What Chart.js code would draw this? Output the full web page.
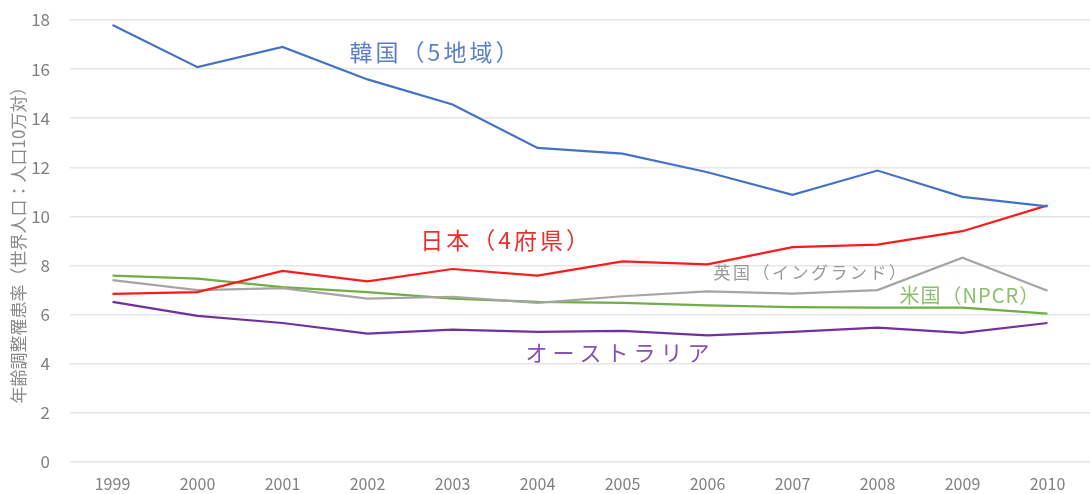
<!DOCTYPE html>
<html>
<head>
<meta charset="utf-8">
<script src="https://cdn.jsdelivr.net/npm/chart.js@4"></script>
<style>
  html, body { margin: 0; padding: 0; background: #fff; overflow: hidden; }
  canvas { display: block; }
</style>
</head>
<body>
<canvas id="chart" width="1090" height="494"></canvas>
<script>
// 年齢調整罹患率 1999-2010
const years = ['1999', '2000', '2001', '2002', '2003', '2004', '2005', '2006', '2007', '2008', '2009', '2010'];

const korea     = [17.8, 16.08, 16.9, 15.58, 14.56, 12.79, 12.56, 11.8, 10.88, 11.87, 10.8, 10.41];
const japan     = [6.85, 6.92, 7.78, 7.36, 7.86, 7.59, 8.17, 8.05, 8.75, 8.85, 9.4, 10.45];
const uk        = [7.41, 7.0, 7.08, 6.65, 6.73, 6.48, 6.75, 6.95, 6.86, 7.0, 8.32, 6.97];
const us        = [7.59, 7.47, 7.12, 6.92, 6.65, 6.52, 6.48, 6.38, 6.31, 6.29, 6.29, 6.04];
const australia = [6.52, 5.95, 5.66, 5.23, 5.39, 5.3, 5.34, 5.16, 5.3, 5.47, 5.26, 5.66];

const yTicks = [0, 2, 4, 6, 8, 10, 12, 14, 16, 18];

// 系列名ラベル（カテゴリ位置・値で配置）
const labelTexts = ['韓国（5地域）', '日本（4府県）', '英国（イングランド）', '米国（NPCR）', 'オーストラリア'];
const labelX     = [3.8, 4.63, 7.07, 9.26, 5.97];
const labelY     = [16.7, 9.05, 7.7, 6.78, 4.45];

const FONT = "'Noto Sans CJK JP', 'Noto Sans', sans-serif";

const seriesLabels = {
  id: 'seriesLabels',
  afterDatasetsDraw(chart) {
    const { ctx, scales: { x, y } } = chart;
    const styles = [
      { color: '#5b80c8', size: 23, spacing: 3, align: 'center' },
      { color: '#e8302f', size: 23, spacing: 3, align: 'center' },
      { color: '#9a9a9a', size: 17, spacing: 2.5, align: 'left' },
      { color: '#8cbf6c', size: 20, spacing: 1, align: 'left' },
      { color: '#8454b4', size: 22, spacing: 5, align: 'center' }
    ];
    ctx.save();
    labelTexts.forEach((t, i) => {
      const s = styles[i];
      ctx.font = `${s.size}px ${FONT}`;
      ctx.fillStyle = s.color;
      ctx.textBaseline = 'middle';
      ctx.textAlign = s.align;
      ctx.letterSpacing = s.spacing + 'px';
      const px = x.left + (labelX[i] + 0.5) * (x.width / years.length);
      ctx.fillText(t, px, y.getPixelForValue(labelY[i]));
    });
    ctx.restore();
  }
};

function line(label, data, color) {
  return {
    label, data,
    borderColor: color,
    backgroundColor: color,
    borderWidth: 2.2,
    pointRadius: 0,
    tension: 0
  };
}

new Chart(document.getElementById('chart'), {
  type: 'line',
  data: {
    labels: years,
    datasets: [
      line('韓国（5地域）', korea, '#4472c4'),
      line('日本（4府県）', japan, '#ff1a1a'),
      line('英国（イングランド）', uk, '#a5a5a5'),
      line('米国（NPCR）', us, '#70ad47'),
      line('オーストラリア', australia, '#7030a0')
    ]
  },
  options: {
    responsive: false,
    animation: false,
    layout: { padding: { top: 20, right: 0, left: 0, bottom: 0 } },
    plugins: {
      legend: { display: false },
      tooltip: { enabled: false }
    },
    scales: {
      x: {
        offset: true,
        afterFit: s => { s.height = 32; s.paddingLeft = 0; s.paddingRight = 0; },
        grid: { display: false, drawTicks: false },
        border: { display: false },
        ticks: { color: '#808080', font: { family: FONT, size: 16 }, padding: 12, maxRotation: 0 }
      },
      y: {
        min: 0,
        max: 18,
        afterBuildTicks: axis => { axis.ticks = yTicks.map(v => ({ value: v })); },
        afterFit: s => { s.width = 70; s.paddingTop = 0; s.paddingBottom = 0; },
        grid: { color: '#e6e6e6', lineWidth: 1.5, drawTicks: false },
        border: { display: false },
        ticks: { color: '#808080', font: { family: FONT, size: 17 }, padding: 20 },
        title: {
          display: true,
          text: '年齢調整罹患率（世界人口：人口10万対）',
          color: '#8a8a8a',
          font: { family: FONT, size: 17 },
          padding: { top: 8, bottom: 2 }
        }
      }
    }
  },
  plugins: [seriesLabels]
});
</script>
</body>
</html>
